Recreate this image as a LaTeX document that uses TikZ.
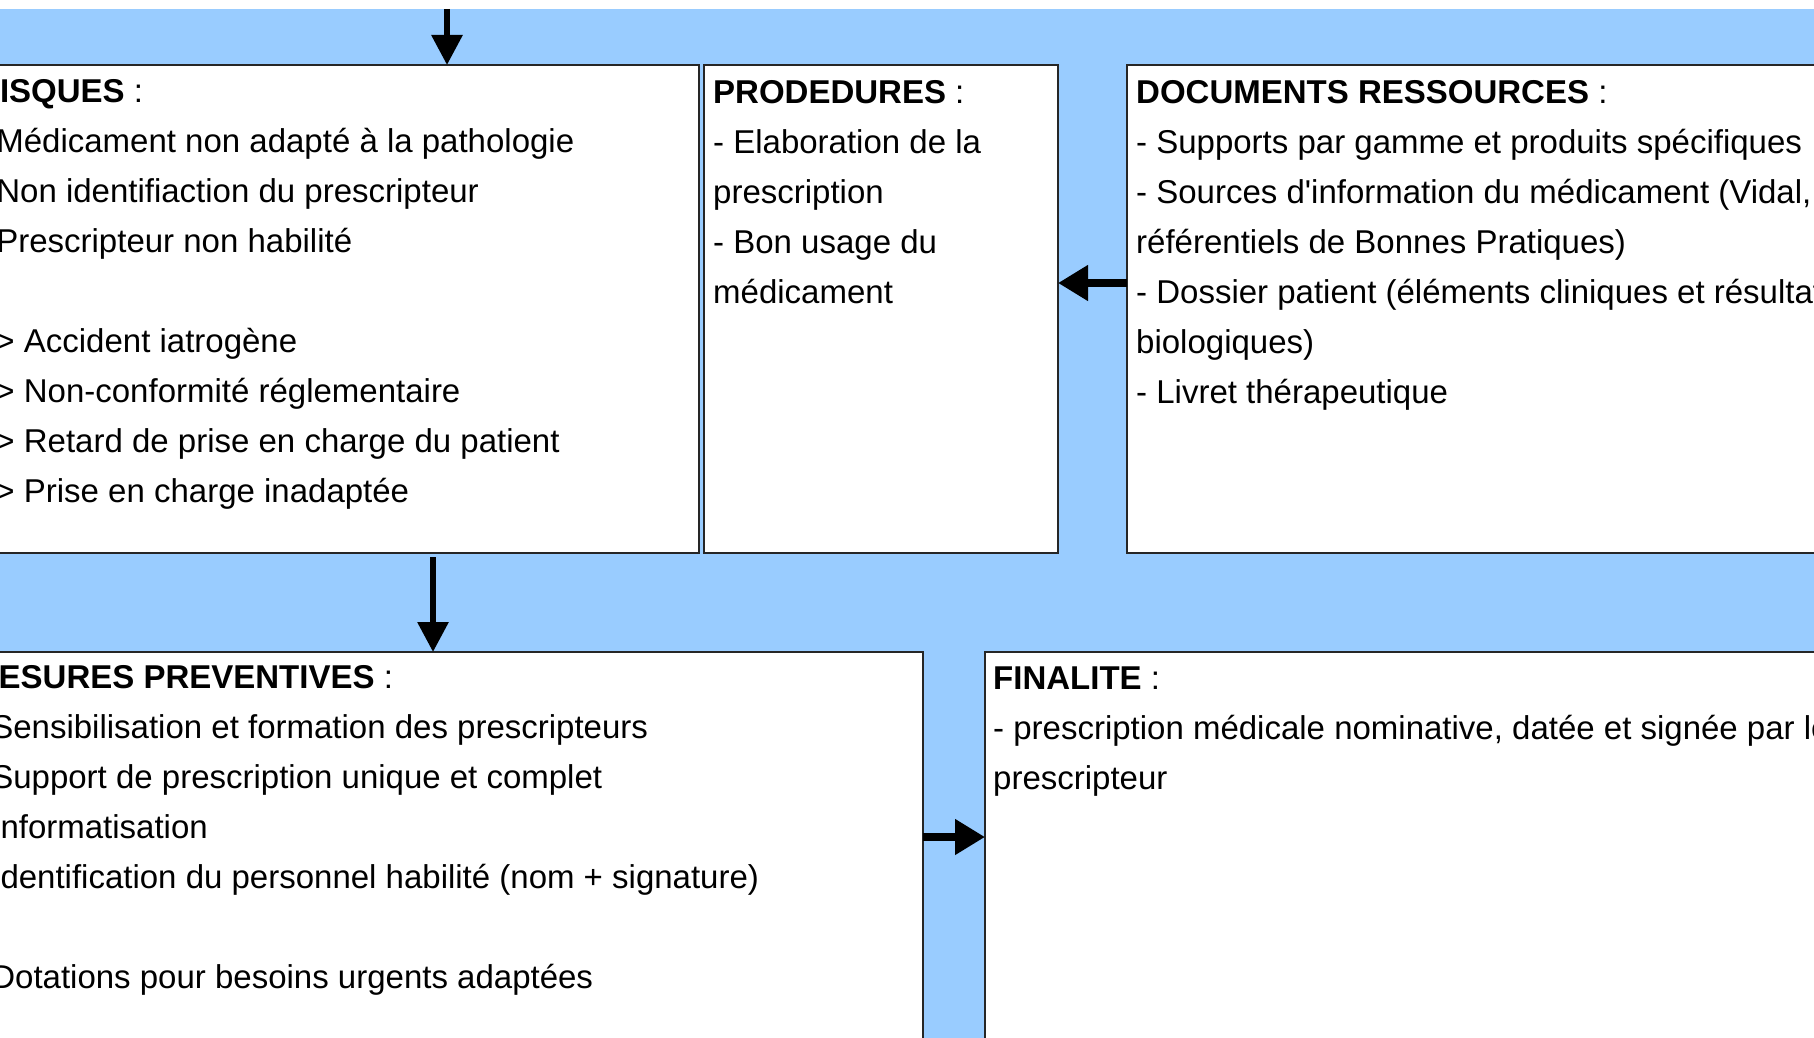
\documentclass[tikz,border=0pt]{standalone}
\usepackage{fontspec}
\newfontfamily\diagfont{Liberation Sans}
\usetikzlibrary{arrows.meta}
\definecolor{sky}{RGB}{153,204,255}
\definecolor{edge}{RGB}{38,38,38}
\begin{document}
\begin{tikzpicture}[x=1pt,y=-1pt,
  panel/.style={draw=edge, line width=2pt, fill=white, rectangle,
    inner sep=0pt, outer sep=0pt, anchor=north west},
  body/.style={anchor=north west, inner sep=0pt, align=left,
    font=\diagfont\fontsize{33}{50}\selectfont},
  flow/.style={line width=6pt, -{Triangle[length=30pt,width=30pt]}},
  flowH/.style={line width=8pt, -{Triangle[length=30pt,width=34pt]}}]

\useasboundingbox (0,0) rectangle (1814,1038);
\clip (0,0) rectangle (1814,1038);

% background
\fill[white] (0,0) rectangle (1814,9);
\fill[sky] (0,9) rectangle (1814,1038);

% panels
\node[panel, minimum width=732pt, minimum height=488pt] (risques) at (-33,65) {};
\node[panel, minimum width=354pt, minimum height=488pt] (proc) at (704,65) {};
\node[panel, minimum width=720pt, minimum height=488pt] (docs) at (1127,65) {};
\node[panel, minimum width=961pt, minimum height=450pt] (mesures) at (-38,652) {};
\node[panel, minimum width=880pt, minimum height=450pt] (final) at (985,652) {};

% panel texts
\node[body] (risquesT) at ([xshift=9pt,yshift=-12pt]risques.north west)
  {\rule{0pt}{25pt}\textbf{RISQUES} :\\
   - Médicament non adapté à la pathologie\\
   - Non identifiaction du prescripteur\\
   - Prescripteur non habilité\\[50pt]
   => Accident iatrogène\\
   => Non-conformité réglementaire\\
   => Retard de prise en charge du patient\\
   => Prise en charge inadaptée};

\node[body] (procT) at ([xshift=9pt,yshift=-13pt]proc.north west)
  {\rule{0pt}{25pt}\textbf{PRODEDURES} :\\
   - Elaboration de la\\
   prescription\\
   - Bon usage du\\
   médicament};

\node[body] (docsT) at ([xshift=9pt,yshift=-13pt]docs.north west)
  {\rule{0pt}{25pt}\textbf{DOCUMENTS RESSOURCES} :\\
   - Supports par gamme et produits spécifiques\\
   - Sources d'information du médicament (Vidal,\\
   référentiels de Bonnes Pratiques)\\
   - Dossier patient (éléments cliniques et résultats\\
   biologiques)\\
   - Livret thérapeutique};

\node[body] (mesuresT) at ([xshift=9pt,yshift=-11pt]mesures.north west)
  {\rule{0pt}{25pt}\textbf{MESURES PREVENTIVES} :\\
   - Sensibilisation et formation des prescripteurs\\
   - Support de prescription unique et complet\\
   - Informatisation\\
   - Identification du personnel habilité (nom + signature)\\[50pt]
   - Dotations pour besoins urgents adaptées};

\node[body] (finalT) at ([xshift=8pt,yshift=-12pt]final.north west)
  {\rule{0pt}{25pt}\textbf{FINALITE} :\\
   - prescription médicale nominative, datée et signée par le\\
   prescripteur};

% connectors
\coordinate (topin) at (447,9);
\draw[flow] (topin) -- (topin |- risques.north);

\coordinate (dropx) at (433,0);
\draw[flow, shorten <=4pt] (risques.south -| dropx) -- (mesures.north -| dropx);

\coordinate (feedy) at (0,283);
\draw[flowH] (docs.west |- feedy) -- (proc.east |- feedy);

\coordinate (outy) at (0,837);
\draw[flowH] (mesures.east |- outy) -- (final.west |- outy);

\end{tikzpicture}
\end{document}
